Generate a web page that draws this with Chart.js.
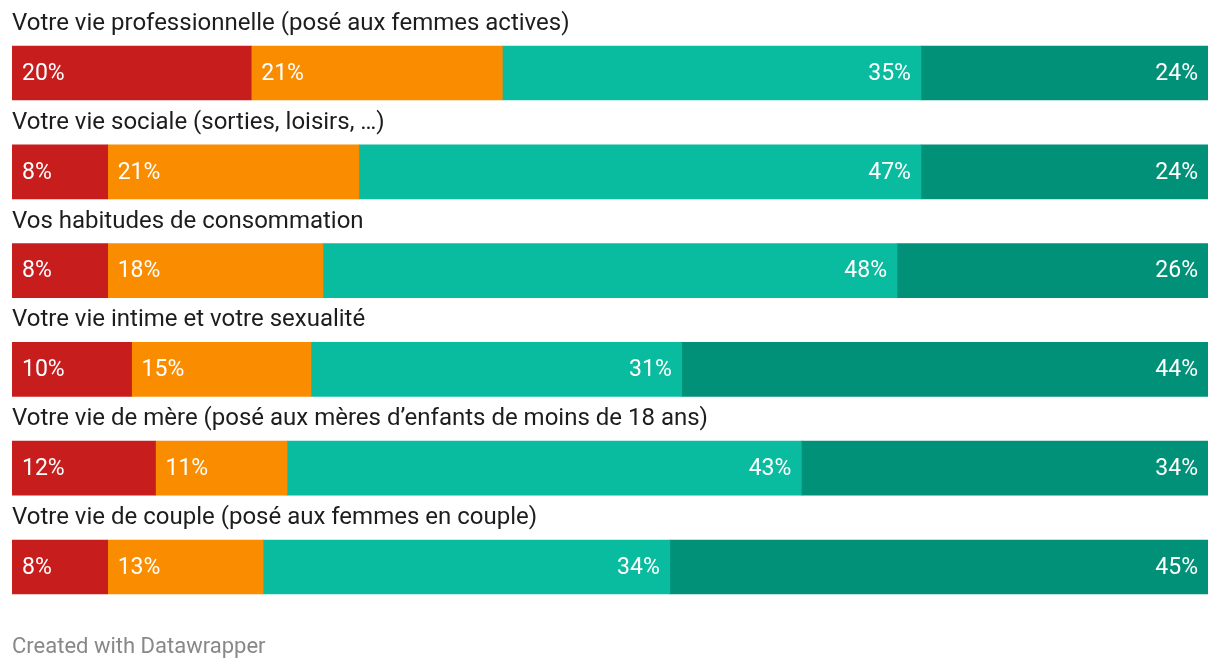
<!DOCTYPE html>
<html>
<head>
<meta charset="utf-8">
<script src="https://cdn.jsdelivr.net/npm/chart.js@4"></script>
<style>
  body { margin: 0; background: #fff; font-family: Roboto, sans-serif; }
  #wrap { position: relative; width: 1220px; height: 672px; }
  #credit { position: absolute; left: 12px; top: 633px; font-size: 22px; line-height: 26px; color: #888; }
</style>
</head>
<body>
<div id="wrap">
  <canvas id="chart" width="1220" height="672"></canvas>
  <div id="credit">Created with Datawrapper</div>
</div>
<script>
const categories = [
    'Votre vie professionnelle (posé aux femmes actives)',
    'Votre vie sociale (sorties, loisirs, …)',
    'Vos habitudes de consommation',
    'Votre vie intime et votre sexualité',
    'Votre vie de mère (posé aux mères d’enfants de moins de 18 ans)',
    'Votre vie de couple (posé aux femmes en couple)'
];
const serie1 = [20, 8, 8, 10, 12, 8];
const serie2 = [21, 21, 18, 15, 11, 13];
const serie3 = [35, 47, 48, 31, 43, 34];
const serie4 = [24, 24, 26, 44, 34, 45];
const colors = ['#c71e1d', '#fa8c00', '#09bb9f', '#009178'];

// titles above each bar + value labels inside segments
const labelsPlugin = {
    id: 'labels',
    afterDatasetsDraw(chart) {
        const ctx = chart.ctx;
        ctx.save();
        ctx.textBaseline = 'middle';
        ctx.font = '24px Roboto';
        const first = chart.getDatasetMeta(0);
        first.data.forEach(function(bar, i) {
            const top = bar.y - bar.height / 2;
            ctx.fillStyle = '#1d1d1d';
            ctx.textAlign = 'left';
            ctx.fillText(categories[i], 12, top - 22);
        });
        ctx.font = '23px Roboto';
        chart.data.datasets.forEach(function(ds, d) {
            const meta = chart.getDatasetMeta(d);
            meta.data.forEach(function(bar, i) {
                ctx.fillStyle = '#fff';
                const txt = ds.data[i] + '%';
                if (d < 2) {
                    ctx.textAlign = 'left';
                    ctx.fillText(txt, Math.min(bar.x, bar.base) + 10, bar.y + 1);
                } else {
                    ctx.textAlign = 'right';
                    ctx.fillText(txt, Math.max(bar.x, bar.base) - 10, bar.y + 1);
                }
            });
        });
        ctx.restore();
    }
};

new Chart(document.getElementById('chart').getContext('2d'), {
    type: 'bar',
    data: {
        labels: categories,
        datasets: [
            { label: '1', data: serie1, backgroundColor: colors[0] },
            { label: '2', data: serie2, backgroundColor: colors[1] },
            { label: '3', data: serie3, backgroundColor: colors[2] },
            { label: '4', data: serie4, backgroundColor: colors[3] }
        ]
    },
    options: {
        indexAxis: 'y',
        responsive: false,
        animation: false,
        barThickness: 54,
        layout: { padding: { left: 12, right: 12, top: 23.6, bottom: 55.6 } },
        plugins: { legend: { display: false }, tooltip: { enabled: false } },
        scales: {
            x: { stacked: true, min: 0, max: 100, display: false },
            y: { stacked: true, display: false }
        }
    },
    plugins: [labelsPlugin]
});
</script>
</body>
</html>
